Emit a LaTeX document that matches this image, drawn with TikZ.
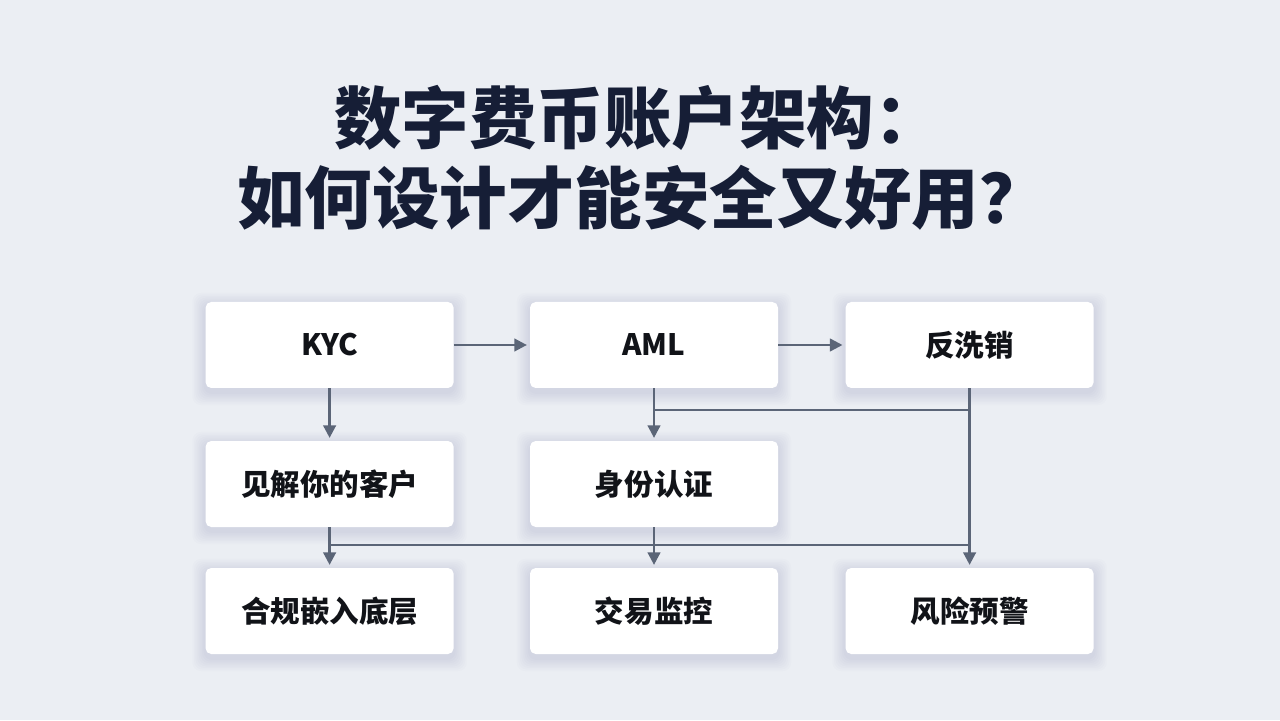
\documentclass[tikz,border=0pt]{standalone}
\usepackage{fontspec}
\setmainfont{Noto Sans CJK SC}
\usepackage{tikz}
\usetikzlibrary{arrows.meta,backgrounds}

\definecolor{bgcol}{HTML}{EBEEF3}
\definecolor{titlecol}{HTML}{161E36}
\definecolor{linecol}{HTML}{5B6577}
\definecolor{textcol}{HTML}{111318}
\definecolor{shadecol}{HTML}{5A6C9A}

\tikzset{
  box/.style={draw=none,fill=white,rounded corners=4pt,minimum width=6.2cm,minimum height=2.15cm,
    font=\fontsize{21}{24}\selectfont\bfseries,text=textcol},
  link/.style={draw=linecol,line width=1.8pt},
  flow/.style={link,-{Triangle[length=9pt,width=9pt]},shorten >=2pt},
  heading/.style={text=titlecol,font=\fontsize{48}{54}\selectfont\bfseries}
}

\begin{document}
\begin{tikzpicture}
\useasboundingbox (0,0) rectangle (32,18);

% title
\node (title1) at (15.95,15.05) [heading]{数字费币账户架构：};
\node (title2) at (16.05,13.05) [heading]{如何设计才能安全又好用？};

% boxes
\node [box] (kyc) at (8.24,9.375) {KYC};
\node [box] (aml) at (16.35,9.375) {AML};
\node [box] (fxq) at (24.24,9.375) {反洗销};
\node [box] (kehu) at (8.24,5.9) {见解你的客户};
\node [box] (sfrz) at (16.35,5.9) {身份认证};
\node [box] (hgqr) at (8.24,2.725) {合规嵌入底层};
\node [box] (jyjk) at (16.35,2.725) {交易监控};
\node [box] (fxyj) at (24.24,2.725) {风险预警};

% soft shadows
\begin{pgfonlayer}{background}
\fill [bgcol](0,0) rectangle (32,18);
\foreach \n in {kyc,aml,fxq,kehu,sfrz,hgqr,jyjk,fxyj}
  \foreach \r in {0.04,0.08,...,0.36}
    \fill [shadecol,opacity=0.02,rounded corners=6pt]
      ([xshift=-\r cm,yshift=-\r cm-0.1cm]\n.south west) rectangle ([xshift=\r cm,yshift=\r cm-0.1cm]\n.north east);
\end{pgfonlayer}

% joints
\coordinate (j1) at (16.35,7.75);
\coordinate (j2) at (24.24,7.75);
\coordinate (j3) at (8.24,4.375);
\coordinate (j4) at (24.24,4.375);

% connectors
\draw [flow] (kyc) -- (aml);
\draw [flow] (aml) -- (fxq);
\draw [flow] (kyc) -- (kehu);
\draw [flow] (aml) -- (sfrz);
\draw [flow] (fxq) -- (fxyj);
\draw [link] (j1) -- (j2);
\draw [flow] (kehu) -- (hgqr);
\draw [flow] (sfrz) -- (jyjk);
\draw [link] (j3) -- (j4);

\end{tikzpicture}
\end{document}
